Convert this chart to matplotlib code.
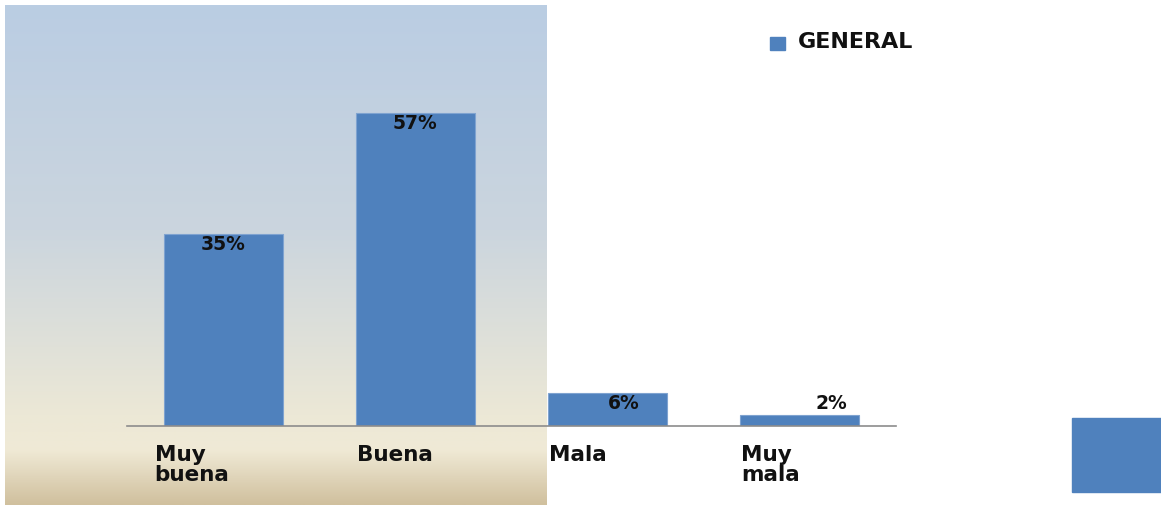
import numpy as np
import matplotlib.pyplot as plt
from matplotlib.colors import LinearSegmentedColormap
from matplotlib.patches import Rectangle

# data
categories = ['Muy\nbuena', 'Buena', 'Mala', 'Muy\nmala']
values = [35, 57, 6, 2]
value_labels = ['35%', '57%', '6%', '2%']
series_name = 'GENERAL'

W, H = 1161, 508
fig = plt.figure(figsize=(W / 100, H / 100), dpi=100)
fig.patch.set_facecolor('white')

def fbox(x0, y0, x1, y1):
    # pixel box (top-left origin) -> figure fraction rect
    return [x0 / W, 1 - y1 / H, (x1 - x0) / W, (y1 - y0) / H]

# gradient backdrop panel
bg = fig.add_axes(fbox(5, 5, 547, 505), zorder=0)
cmap = LinearSegmentedColormap.from_list('bgpanel', [
    (0.00, (186/255, 205/255, 227/255)),
    (0.45, (203/255, 213/255, 222/255)),
    (0.82, (236/255, 232/255, 214/255)),
    (0.89, (240/255, 234/255, 214/255)),
    (1.00, (208/255, 192/255, 158/255)),
])
grad = np.linspace(0, 1, 256).reshape(-1, 1)
bg.imshow(grad, cmap=cmap, aspect='auto', extent=[0, 1, 1, 0])
bg.set_axis_off()

# main bar axes
blue = '#4F81BD'
ax = fig.add_axes(fbox(127, 97, 895.5, 426), zorder=1)
ax.patch.set_alpha(0)
x = np.arange(len(categories))
bars = ax.bar(x, values, width=0.62, color=blue, edgecolor='#7FA3D0', linewidth=0.8, zorder=2)
ax.set_xlim(-0.5, 3.5)
ax.set_ylim(0, 60)
for s in ['top', 'right', 'left']:
    ax.spines[s].set_visible(False)
ax.spines['bottom'].set_color('#8C8C8C')
ax.spines['bottom'].set_linewidth(1.2)
ax.set_yticks([])
ax.set_xticks([])

# category labels, left aligned under bars
for i, c in enumerate(categories):
    ax.annotate(c, xy=(i - 0.31, 0), xycoords='data', xytext=(-9 if i == 0 else 1, -19),
                textcoords='offset pixels', ha='left', va='top',
                fontsize=15.5, fontweight='bold', color='#111111', linespacing=1.0)

# value labels
offsets = [(0, -10), (0, -10), (16, -10), (32, 12)]
for i, (v, lab) in enumerate(zip(values, value_labels)):
    dx, dy = offsets[i]
    ax.annotate(lab, xy=(i, v), xytext=(dx, dy), textcoords='offset pixels',
                ha='center', va='center', fontsize=13.5, fontweight='bold', color='#111111')

# legend
fig.patches.append(Rectangle((770 / W, 1 - 50 / H), 15 / W, 13 / H,
                             transform=fig.transFigure, color=blue))
fig.text(798 / W, 1 - 42 / H, series_name, ha='left', va='center',
         fontsize=16, fontweight='bold', color='#111111')

# stray blue block bottom right
fig.patches.append(Rectangle((1072 / W, 1 - 492 / H), 89 / W, 74 / H,
                             transform=fig.transFigure, color=blue))

fig.savefig('out.png', dpi=100)
